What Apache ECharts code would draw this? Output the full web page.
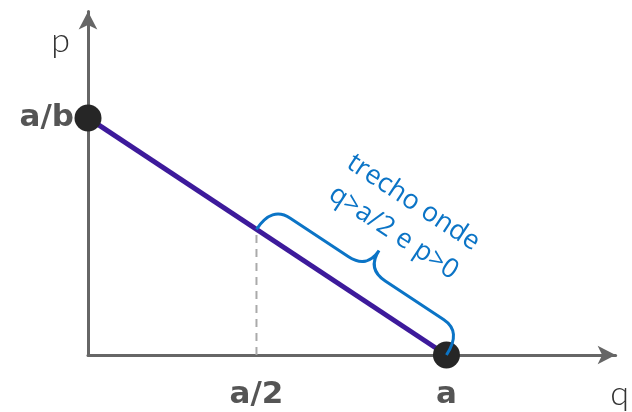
<!DOCTYPE html>
<html><head><meta charset="utf-8">
<script src="https://cdn.jsdelivr.net/npm/echarts@6/dist/echarts.min.js"></script>
<style>html,body{margin:0;padding:0;background:#fff}#c{width:632px;height:412px}</style>
</head><body><div id="c"></div>
<script>
// demand line endpoints (q in units of a, p in units of a/b)
const qValues = [0, 1];
const pValues = [1, 0];
// position of the a/2 marker
const halfQ = 0.47;
const halfP = 0.53;
const xTickValues = [0.47, 1];
const xTickLabels = ['a/2', 'a'];
const yTickValues = [1];
const yTickLabels = ['a/b'];
const braceFrom = [0.47, 0.53];
const braceTo = [1, 0];
const noteText = ['trecho onde', 'q>a/2 e p>0'];
const noteAnchor = [0.88, 0.58];

const chart = echarts.init(document.getElementById('c'));
const axisCol = '#666666';
const labelFont = {color: '#555555', fontFamily: 'DejaVu Sans', fontWeight: 'bold', fontSize: 31};

function bracePath(A, B) {
  const dx = B[0] - A[0], dy = B[1] - A[1];
  const L = Math.hypot(dx, dy);
  const d = [dx / L, dy / L];
  const n = [d[1], -d[0]];
  const hb = 28, ht = 50, r = 22;
  const P = (u, v) => [A[0] + d[0] * u + n[0] * v, A[1] + d[1] * u + n[1] * v].map(x => x.toFixed(2)).join(' ');
  const m = L / 2;
  return 'M' + P(0, 0) +
    ' Q' + P(0, hb) + ' ' + P(r, hb) +
    ' L' + P(m - r, hb) +
    ' Q' + P(m, hb) + ' ' + P(m, ht) +
    ' Q' + P(m, hb) + ' ' + P(m + r, hb) +
    ' L' + P(L - r, hb) +
    ' Q' + P(L, hb) + ' ' + P(L, 0);
}

chart.setOption({
  animation: false,
  grid: {left: 88, right: 12, top: 11.5, bottom: 57},
  xAxis: {
    type: 'value', min: 0, max: 1.472,
    name: 'q', nameLocation: 'end', nameGap: -2,
    nameTextStyle: {color: '#333', fontFamily: 'Lato', fontWeight: 300, fontSize: 34, align: 'center', verticalAlign: 'top', padding: [22, 0, 0, 12]},
    axisLine: {show: true, lineStyle: {color: axisCol, width: 3}, symbol: ['none', 'arrow'], symbolSize: [14, 18]},
    axisTick: {show: false},
    splitLine: {show: false},
    axisLabel: {
      show: true, customValues: xTickValues, margin: 24, ...labelFont,
      formatter: v => { const i = xTickValues.findIndex(t => Math.abs(t - v) < 1e-6); return i >= 0 ? xTickLabels[i] : ''; }
    }
  },
  yAxis: {
    type: 'value', min: 0, max: 1.449,
    name: 'p', nameLocation: 'end', nameGap: -30,
    nameTextStyle: {color: '#333', fontFamily: 'Lato', fontWeight: 300, fontSize: 34, align: 'right', verticalAlign: 'middle', padding: [0, 18, 0, 0]},
    axisLine: {show: true, lineStyle: {color: axisCol, width: 3}, symbol: ['none', 'arrow'], symbolSize: [14, 18]},
    axisTick: {show: false},
    splitLine: {show: false},
    axisLabel: {
      show: true, customValues: yTickValues, margin: 14, ...labelFont,
      formatter: v => { const i = yTickValues.findIndex(t => Math.abs(t - v) < 1e-6); return i >= 0 ? yTickLabels[i] : ''; }
    }
  },
  series: [
    {
      type: 'line', data: [[halfQ, 0], [halfQ, halfP]], symbol: 'none', z: 2,
      lineStyle: {color: '#aaaaaa', width: 2, type: [8, 6]}
    },
    {
      type: 'line', data: qValues.map((q, i) => [q, pValues[i]]), symbol: 'none', z: 3,
      lineStyle: {color: '#3d1a9b', width: 5}
    },
    {
      type: 'scatter', data: qValues.map((q, i) => [q, pValues[i]]), symbolSize: 27, z: 4,
      itemStyle: {color: '#262626', opacity: 1}
    },
    {
      type: 'custom', z: 5, data: [[braceFrom[0], braceFrom[1], braceTo[0], braceTo[1]]],
      renderItem: (params, api) => {
        const A = api.coord([api.value(0), api.value(1)]);
        const B = api.coord([api.value(2), api.value(3)]);
        return {type: 'path', shape: {pathData: bracePath(A, B)}, style: {stroke: '#0b74c6', lineWidth: 3, fill: null}};
      }
    },
    {
      type: 'custom', z: 6, data: [noteAnchor],
      renderItem: (params, api) => {
        const P = api.coord([api.value(0), api.value(1)]);
        return {
          type: 'text', x: P[0], y: P[1], rotation: -Math.atan2(237, 360),
          style: {text: noteText.join('\n'), fill: '#0b74c6', font: '400 27px "Open Sans"', align: 'center', verticalAlign: 'middle', textAlign: 'center', textVerticalAlign: 'middle', lineHeight: 36}
        };
      }
    }
  ]
});
</script></body></html>
